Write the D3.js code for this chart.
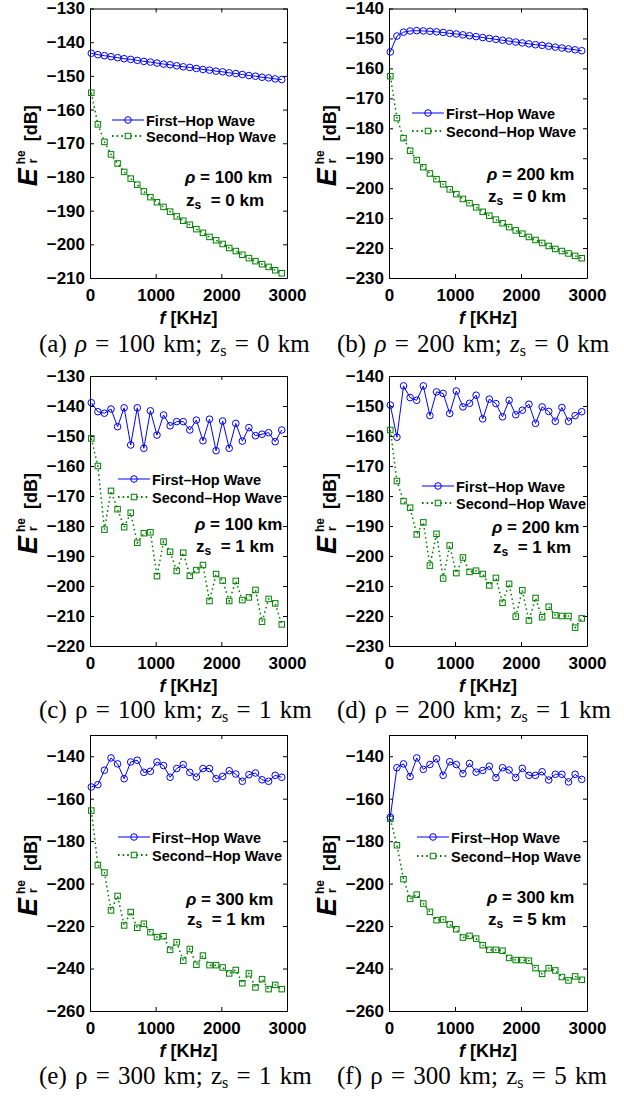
<!DOCTYPE html>
<html><head><meta charset="utf-8">
<script src="https://cdn.jsdelivr.net/npm/d3@7"></script>
<style>
body{margin:0;background:#fff;}
svg{display:block;}
</style></head><body>
<svg id="chart" width="624" height="1099"></svg>
<script>
// ---- data ----
const freq = [20,120,220,320,420,520,620,720,820,920,1020,1120,1220,1320,1420,1520,1620,1720,1820,1920,2020,2120,2220,2320,2420,2520,2620,2720,2820,2920];
const xTicks = [0,1000,2000,3000];

const firstA = [-143.3,-143.7,-144.0,-144.3,-144.6,-144.9,-145.1,-145.4,-145.7,-145.9,-146.2,-146.5,-146.7,-147.0,-147.3,-147.5,-147.8,-148.1,-148.3,-148.6,-148.8,-149.1,-149.3,-149.6,-149.9,-150.1,-150.4,-150.6,-150.9,-151.1];
const secondA = [-155.0,-164.4,-169.6,-173.3,-176.0,-178.5,-180.5,-182.3,-184.3,-186.0,-187.5,-188.9,-190.3,-191.7,-193.0,-194.2,-195.5,-196.6,-197.8,-198.8,-199.9,-201.1,-202.0,-203.1,-204.1,-205.0,-205.9,-206.7,-207.7,-208.6];
const firstB = [-154.5,-149.2,-147.9,-147.5,-147.4,-147.5,-147.6,-147.8,-148.0,-148.3,-148.5,-148.8,-149.1,-149.4,-149.7,-150.0,-150.3,-150.6,-150.9,-151.2,-151.5,-151.8,-152.1,-152.3,-152.6,-152.9,-153.2,-153.5,-153.8,-154.1];
const secondB = [-162.6,-176.6,-183.3,-187.5,-190.6,-193.0,-195.1,-197.0,-198.7,-200.4,-202.0,-203.6,-205.0,-206.4,-207.9,-209.2,-210.5,-211.7,-213.0,-214.1,-215.2,-216.3,-217.3,-218.3,-219.3,-220.3,-221.0,-221.8,-222.6,-223.4];
const firstC = [-138.9,-141.9,-142.4,-141.0,-146.9,-140.6,-153.0,-140.6,-154.1,-141.6,-149.7,-143.0,-146.6,-145.2,-145.2,-148.0,-144.7,-151.6,-144.4,-154.9,-145.0,-154.1,-145.8,-151.7,-147.2,-149.9,-149.4,-148.9,-151.9,-148.0];
const secondC = [-150.8,-160.0,-181.2,-168.3,-174.4,-180.4,-175.6,-185.6,-182.4,-182.1,-196.7,-185.2,-188.6,-195.0,-188.9,-196.6,-194.7,-193.0,-205.0,-196.0,-198.2,-205.0,-198.3,-204.7,-203.8,-201.3,-211.9,-204.3,-205.8,-212.8];
const firstD = [-149.7,-160.4,-143.3,-147.2,-148.1,-143.3,-153.2,-145.3,-145.8,-152.5,-145.0,-150.3,-149.1,-146.4,-154.3,-147.7,-149.2,-153.6,-148.1,-152.9,-151.4,-149.4,-155.8,-150.3,-151.8,-155.1,-150.5,-155.1,-153.2,-151.9];
const secondD = [-158.0,-175.0,-181.7,-183.9,-192.8,-188.8,-203.2,-192.6,-207.5,-196.5,-205.7,-200.5,-205.3,-204.9,-206.0,-209.8,-207.3,-215.6,-209.3,-220.2,-211.4,-221.5,-214.0,-220.4,-216.9,-219.8,-220.0,-220.0,-223.9,-220.8];
const firstE = [-154.5,-153.4,-146.6,-140.8,-143.6,-150.6,-142.7,-141.9,-147.6,-147.1,-142.7,-144.4,-149.9,-145.8,-143.9,-147.6,-149.8,-145.8,-145.8,-150.6,-149.5,-146.8,-148.4,-151.8,-148.7,-147.9,-151.1,-151.8,-149.0,-149.9];
const secondE = [-165.6,-191.3,-194.8,-212.6,-205.8,-219.7,-213.4,-220.8,-218.9,-222.9,-225.2,-224.8,-231.2,-227.6,-236.3,-230.8,-238.2,-233.9,-238.4,-238.4,-239.5,-242.3,-240.7,-246.9,-242.3,-248.9,-245.0,-249.7,-247.7,-249.7];
const firstF = [-168.7,-145.4,-143.6,-149.6,-140.8,-146.2,-143.9,-141.2,-149.0,-142.6,-143.9,-148.2,-143.4,-147.5,-146.7,-144.7,-150.1,-145.4,-146.5,-150.1,-145.7,-149.0,-149.0,-147.3,-151.2,-148.5,-148.5,-152.1,-148.5,-150.9];
const secondF = [-169.5,-181.9,-197.9,-207.2,-205.2,-209.4,-213.3,-217.2,-216.9,-219.2,-221.5,-225.4,-224.6,-225.9,-229.0,-231.2,-231.2,-231.6,-235.0,-236.0,-236.0,-236.3,-239.8,-242.5,-239.8,-240.9,-244.0,-245.6,-243.7,-245.3];

const yTicksA = [-210,-200,-190,-180,-170,-160,-150,-140,-130];
const yTicksB = [-230,-220,-210,-200,-190,-180,-170,-160,-150,-140];
const yTicksC = [-220,-210,-200,-190,-180,-170,-160,-150,-140,-130];
const yTicksD = [-230,-220,-210,-200,-190,-180,-170,-160,-150,-140];
const yTicksE = [-260,-240,-220,-200,-180,-160,-140];
const yTicksF = [-260,-240,-220,-200,-180,-160,-140];

const panelLetters = ["a","b","c","d","e","f"];
const rhoValues = [100,200,100,200,300,300];
const zsValues = [0,0,1,1,1,5];
const seriesNames = ["First\u2013Hop Wave","Second\u2013Hop Wave"];

// ---- layout ----
const SANS = "'Liberation Sans',Arial,Helvetica,sans-serif";
const SERIF = "'Liberation Serif','Times New Roman',serif";
const svg = d3.select("#chart").style("font-family",SANS);
const COLS = [[90,287],[389,587]];
const ROWS = [[8.5,278],[376,646],[735,1011]];
const BLUE = "#0000ff", GREEN = "#008000";

const panels = [
  {first:firstA, second:secondA, dom:[-210,-130], ticks:yTicksA, col:0,row:0, leg:[112,120,136], ann:[185,183,206], capBase:352, italicCap:true},
  {first:firstB, second:secondB, dom:[-230,-140], ticks:yTicksB, col:1,row:0, leg:[412,113,131], ann:[487,180,202], capBase:352, italicCap:true},
  {first:firstC, second:secondC, dom:[-220,-130], ticks:yTicksC, col:0,row:1, leg:[118,479,497], ann:[195,530,552], capBase:718, italicCap:false},
  {first:firstD, second:secondD, dom:[-230,-140], ticks:yTicksD, col:1,row:1, leg:[422,486,503], ann:[492,533,553], capBase:718, italicCap:false},
  {first:firstE, second:secondE, dom:[-260,-130], ticks:yTicksE, col:0,row:2, leg:[118,837,855], ann:[186,905,925], capBase:1084, italicCap:false},
  {first:firstF, second:secondF, dom:[-260,-130], ticks:yTicksF, col:1,row:2, leg:[417,837,856], ann:[487,903,925], capBase:1084, italicCap:false}
];

panels.forEach((p,i)=>{
  const [x0,x1] = COLS[p.col];
  const [y0,y1] = ROWS[p.row];
  const x = d3.scaleLinear().domain([0,3000]).range([x0,x1]);
  const y = d3.scaleLinear().domain(p.dom).range([y1,y0]);
  const g = svg.append("g");

  const styleAxis = sel => {
    sel.selectAll("path.domain").attr("stroke","#000").attr("stroke-width",1);
    sel.selectAll(".tick line").attr("stroke","#000").attr("stroke-width",1);
    sel.selectAll("text").attr("fill","#000").attr("font-size",17).attr("font-weight","bold")
       .style("font-family",SANS);
  };
  // bottom
  g.append("g").attr("transform",`translate(0,${y1})`)
    .call(d3.axisBottom(x).tickValues(xTicks).tickSizeInner(-4).tickSizeOuter(0).tickPadding(11).tickFormat(d3.format("d")))
    .call(styleAxis);
  // top
  g.append("g").attr("transform",`translate(0,${y0})`)
    .call(d3.axisTop(x).tickValues(xTicks).tickSizeInner(-4).tickSizeOuter(0).tickFormat(""))
    .call(styleAxis);
  // left
  g.append("g").attr("transform",`translate(${x0},0)`)
    .call(d3.axisLeft(y).tickValues(p.ticks).tickSizeInner(-4).tickSizeOuter(0).tickPadding(5).tickFormat(d3.format("d")))
    .call(styleAxis);
  // right
  g.append("g").attr("transform",`translate(${x1},0)`)
    .call(d3.axisRight(y).tickValues(p.ticks).tickSizeInner(-4).tickSizeOuter(0).tickFormat(""))
    .call(styleAxis);

  const d1 = freq.map((f,k)=>({f, v:p.first[k]}));
  const d2 = freq.map((f,k)=>({f, v:p.second[k]}));
  const line = d3.line().x(d=>x(d.f)).y(d=>y(d.v));

  // second-hop (green dotted + squares)
  g.append("path").datum(d2).attr("d",line).attr("fill","none")
    .attr("stroke",GREEN).attr("stroke-width",1.5).attr("stroke-dasharray","1.6,3");
  g.selectAll("rect.sq").data(d2).enter().append("rect").attr("class","sq")
    .attr("x",d=>x(d.f)-2.75).attr("y",d=>y(d.v)-2.75).attr("width",5.5).attr("height",5.5)
    .attr("fill","none").attr("stroke",GREEN).attr("stroke-width",1);
  // first-hop (blue solid + circles)
  g.append("path").datum(d1).attr("d",line).attr("fill","none")
    .attr("stroke",BLUE).attr("stroke-width",1);
  g.selectAll("circle.ci").data(d1).enter().append("circle").attr("class","ci")
    .attr("cx",d=>x(d.f)).attr("cy",d=>y(d.v)).attr("r",3.3)
    .attr("fill","none").attr("stroke",BLUE).attr("stroke-width",1);

  // legend
  const [lx,ly1,ly2] = p.leg;
  const lw = 32;
  g.append("line").attr("x1",lx).attr("x2",lx+lw).attr("y1",ly1).attr("y2",ly1).attr("stroke",BLUE).attr("stroke-width",1);
  g.append("circle").attr("cx",lx+lw/2).attr("cy",ly1).attr("r",3.3).attr("fill","none").attr("stroke",BLUE);
  g.append("line").attr("x1",lx).attr("x2",lx+lw).attr("y1",ly2).attr("y2",ly2).attr("stroke",GREEN).attr("stroke-width",2).attr("stroke-dasharray","1.6,3");
  g.append("rect").attr("x",lx+lw/2-2.75).attr("y",ly2-2.75).attr("width",5.5).attr("height",5.5).attr("fill","#fff").attr("stroke",GREEN);
  [ly1,ly2].forEach((ly,k)=>{
    g.append("text").attr("x",lx+lw+2).attr("y",ly+5.5).attr("font-size",14.5).attr("font-weight","bold")
      .attr("fill","#000").text(seriesNames[k]);
  });

  // annotation
  const [ax,ab1,ab2] = p.ann;
  const t1 = g.append("text").attr("x",ax).attr("y",ab1).attr("font-size",17).attr("font-weight","bold").attr("fill","#000");
  t1.append("tspan").attr("font-style","italic").text("\u03c1");
  t1.append("tspan").text(` = ${rhoValues[i]} km`);
  const t2 = g.append("text").attr("x",ax+1).attr("y",ab2).attr("font-size",17).attr("font-weight","bold").attr("fill","#000")
    .attr("xml:space","preserve").style("white-space","pre");
  t2.append("tspan").text("z");
  t2.append("tspan").attr("font-size",12).attr("dy",3).text("s");
  t2.append("tspan").attr("dy",-3).text(`  = ${zsValues[i]} km`);

  // y label
  const yl = g.append("g").attr("transform",`translate(${x0-53},${(y0+y1)/2+43}) rotate(-90)`);
  yl.append("text").attr("x",0).attr("y",0).attr("font-size",27).attr("font-weight","bold").attr("font-style","italic").attr("fill","#000").text("E");
  yl.append("text").attr("x",22).attr("y",-12).attr("font-size",12).attr("font-weight","bold").attr("fill","#000").text("he");
  yl.append("text").attr("x",23).attr("y",0).attr("font-size",12).attr("font-weight","bold").attr("fill","#000").text("r");
  yl.append("text").attr("x",45).attr("y",0).attr("font-size",18).attr("font-weight","bold").attr("fill","#000").text("[dB]");

  // x label
  const xl = g.append("text").attr("x",(x0+x1)/2).attr("y",y1+46).attr("text-anchor","middle")
    .attr("font-size",18).attr("font-weight","bold").attr("fill","#000");
  xl.append("tspan").attr("font-style","italic").text("f");
  xl.append("tspan").text(" [KHz]");

  // caption
  const cx = p.col===0 ? 39 : 337;
  const cap = g.append("text").attr("x",cx).attr("y",p.capBase)
    .style("font-family",SERIF).attr("font-size",25).attr("fill","#000")
    .style("word-spacing","2px");
  cap.append("tspan").text(`(${panelLetters[i]}) `);
  cap.append("tspan").attr("font-style",p.italicCap?"italic":"normal").text("\u03c1");
  cap.append("tspan").text(` = ${rhoValues[i]} km; `);
  cap.append("tspan").attr("font-style",p.italicCap?"italic":"normal").text("z");
  cap.append("tspan").attr("font-size",16).attr("dy",4).text("s");
  cap.append("tspan").attr("dy",-4).text(` = ${zsValues[i]} km`);
});
</script>
</body></html>
